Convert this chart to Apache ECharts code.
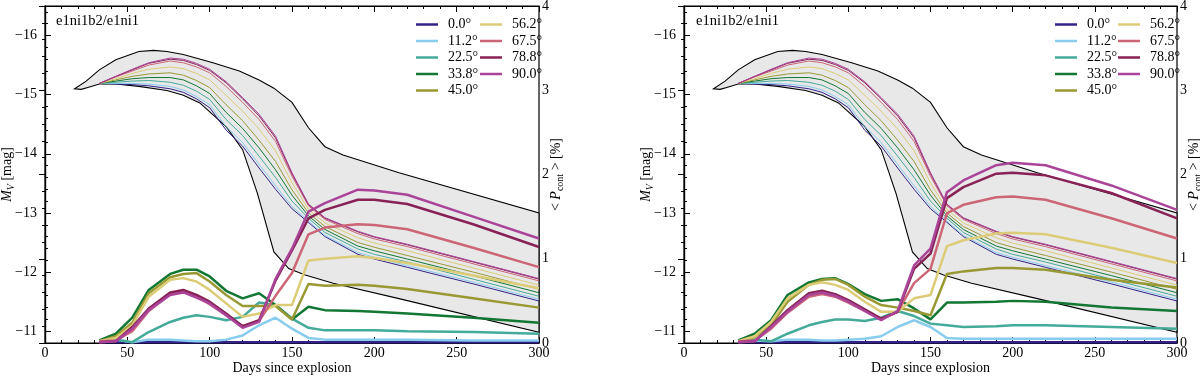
<!DOCTYPE html>
<html>
<head>
<meta charset="utf-8">
<script src="https://cdn.jsdelivr.net/npm/echarts@6/dist/echarts.min.js"></script>
<style>
  html, body { margin: 0; padding: 0; background: #fff; }
  #chart { width: 1200px; height: 376px; }
</style>
</head>
<body>
<div id="chart"></div>
<script>
var dom = document.getElementById("chart");
var myChart = echarts.init(dom, null, { renderer: 'canvas' });
var fontFam = 'Liberation Serif';

// angles and colours
var angles = ['0.0°', '11.2°', '22.5°', '33.8°', '45.0°', '56.2°', '67.5°', '78.8°', '90.0°'];
var colors = ['#332288', '#88CCEE', '#44AA99', '#117733', '#999933', '#DDCC77', '#CC6677', '#882255', '#AA4499'];
var panelTitles = ['e1ni1b2/e1ni1', 'e1ni1b2/e1ni1'];

// days since explosion (model epochs)
var days = [33, 43, 53, 63, 76, 84, 92, 100, 110, 120, 130, 140, 150, 160, 170, 190, 200, 220, 260, 300];

// light curves M_V, one per angle (same in both panels)
var lc00 = [-15.19, -15.18, -15.17, -15.15, -15.10, -15.04, -14.93, -14.78, -14.40, -14.13, -13.76, -13.40, -13.07, -12.84, -12.60, -12.30, -12.22, -12.08, -11.80, -11.51];
var lc11 = [-15.19, -15.19, -15.19, -15.18, -15.14, -15.08, -14.97, -14.83, -14.46, -14.19, -13.82, -13.46, -13.11, -12.86, -12.62, -12.33, -12.25, -12.11, -11.83, -11.54];
var lc22 = [-15.19, -15.21, -15.23, -15.24, -15.21, -15.16, -15.06, -14.92, -14.58, -14.31, -13.96, -13.60, -13.20, -12.91, -12.67, -12.39, -12.30, -12.17, -11.88, -11.59];
var lc33 = [-15.19, -15.23, -15.27, -15.29, -15.29, -15.25, -15.15, -15.02, -14.70, -14.43, -14.10, -13.73, -13.30, -12.95, -12.72, -12.44, -12.36, -12.22, -11.94, -11.65];
var lc45 = [-15.19, -15.25, -15.31, -15.35, -15.37, -15.33, -15.24, -15.12, -14.83, -14.56, -14.23, -13.87, -13.39, -13.00, -12.77, -12.50, -12.42, -12.28, -12.00, -11.71];
var lc56 = [-15.19, -15.27, -15.36, -15.43, -15.47, -15.44, -15.36, -15.25, -14.99, -14.72, -14.42, -14.05, -13.51, -13.06, -12.83, -12.58, -12.49, -12.36, -12.07, -11.78];
var lc67 = [-15.19, -15.30, -15.40, -15.50, -15.57, -15.54, -15.47, -15.37, -15.14, -14.87, -14.58, -14.21, -13.62, -13.12, -12.89, -12.65, -12.56, -12.43, -12.14, -11.85];
var lc78 = [-15.19, -15.31, -15.42, -15.53, -15.60, -15.58, -15.51, -15.41, -15.20, -14.93, -14.64, -14.27, -13.66, -13.14, -12.91, -12.68, -12.59, -12.46, -12.17, -11.88];
var lc90 = [-15.19, -15.31, -15.43, -15.54, -15.62, -15.60, -15.53, -15.43, -15.22, -14.95, -14.67, -14.30, -13.68, -13.15, -12.92, -12.69, -12.60, -12.47, -12.18, -11.89];

// grey reference band (upper and lower edges)
var envUpperX = [18, 25, 33, 43, 57, 66, 74, 84, 102, 118, 130, 139, 150, 160, 170, 181, 215, 300];
var envUpperY = [-15.10, -15.23, -15.42, -15.59, -15.73, -15.75, -15.73, -15.68, -15.54, -15.40, -15.25, -15.11, -14.87, -14.44, -14.12, -13.98, -13.68, -13.00];
var envLowerX = [18, 22, 27, 33, 43, 57, 74, 84, 94, 110, 120, 129, 139, 148, 158, 175, 215, 300];
var envLowerY = [-15.10, -15.09, -15.13, -15.18, -15.18, -15.14, -15.07, -14.99, -14.86, -14.46, -14.07, -13.33, -12.34, -12.06, -11.95, -11.81, -11.55, -10.98];

// continuum polarisation [%], left panel
var polL00 = [0.01, 0.01, 0.01, 0.01, 0.01, 0.01, 0.01, 0.01, 0.01, 0.01, 0.01, 0.01, 0.01, 0.01, 0.01, 0.01, 0.01, 0.01, 0.01, 0.01];
var polL11 = [0.02, 0.04, 0.01, 0.04, 0.04, 0.03, 0.02, 0.02, 0.04, 0.09, 0.21, 0.30, 0.17, 0.06, 0.04, 0.04, 0.04, 0.04, 0.03, 0.03];
var polL22 = [0.02, 0.04, 0.01, 0.13, 0.25, 0.30, 0.33, 0.31, 0.27, 0.31, 0.48, 0.45, 0.29, 0.18, 0.15, 0.15, 0.15, 0.14, 0.13, 0.11];
var polL33 = [0.03, 0.11, 0.30, 0.63, 0.82, 0.87, 0.87, 0.79, 0.62, 0.53, 0.59, 0.45, 0.28, 0.43, 0.39, 0.38, 0.37, 0.35, 0.30, 0.24];
var polL45 = [0.02, 0.08, 0.24, 0.59, 0.78, 0.82, 0.83, 0.73, 0.57, 0.44, 0.44, 0.44, 0.28, 0.70, 0.68, 0.69, 0.68, 0.64, 0.53, 0.42];
var polL56 = [0.02, 0.06, 0.21, 0.55, 0.75, 0.77, 0.73, 0.63, 0.47, 0.31, 0.35, 0.45, 0.45, 0.98, 1.00, 1.03, 1.01, 0.95, 0.80, 0.65];
var polL67 = [0.02, 0.03, 0.14, 0.38, 0.58, 0.61, 0.55, 0.46, 0.33, 0.20, 0.26, 0.56, 0.83, 1.29, 1.37, 1.41, 1.40, 1.35, 1.13, 0.90];
var polL78 = [0.01, 0.02, 0.19, 0.41, 0.60, 0.63, 0.57, 0.49, 0.35, 0.20, 0.27, 0.74, 1.10, 1.48, 1.58, 1.70, 1.70, 1.65, 1.41, 1.14];
var polL90 = [0.01, 0.02, 0.17, 0.39, 0.57, 0.60, 0.54, 0.47, 0.33, 0.18, 0.25, 0.76, 1.12, 1.56, 1.66, 1.82, 1.81, 1.76, 1.50, 1.24];

// continuum polarisation [%], right panel
var polR00 = [0.01, 0.01, 0.01, 0.01, 0.01, 0.01, 0.01, 0.01, 0.01, 0.01, 0.01, 0.01, 0.01, 0.01, 0.01, 0.01, 0.01, 0.01, 0.01, 0.01];
var polR11 = [0.02, 0.03, 0.02, 0.04, 0.04, 0.03, 0.03, 0.04, 0.05, 0.08, 0.19, 0.27, 0.19, 0.06, 0.05, 0.05, 0.05, 0.05, 0.05, 0.05];
var polR22 = [0.03, 0.04, 0.02, 0.11, 0.21, 0.25, 0.28, 0.28, 0.26, 0.30, 0.38, 0.32, 0.23, 0.21, 0.19, 0.20, 0.21, 0.21, 0.19, 0.17];
var polR33 = [0.03, 0.11, 0.27, 0.57, 0.72, 0.76, 0.77, 0.70, 0.58, 0.50, 0.52, 0.41, 0.28, 0.48, 0.48, 0.49, 0.50, 0.49, 0.42, 0.38];
var polR45 = [0.02, 0.07, 0.21, 0.49, 0.69, 0.75, 0.76, 0.69, 0.55, 0.45, 0.42, 0.38, 0.33, 0.82, 0.85, 0.89, 0.89, 0.87, 0.75, 0.66];
var polR56 = [0.02, 0.08, 0.25, 0.53, 0.69, 0.72, 0.69, 0.63, 0.49, 0.37, 0.37, 0.53, 0.57, 1.15, 1.22, 1.30, 1.31, 1.29, 1.13, 0.95];
var polR67 = [0.02, 0.03, 0.17, 0.36, 0.55, 0.58, 0.55, 0.48, 0.38, 0.28, 0.37, 0.71, 0.88, 1.54, 1.64, 1.73, 1.74, 1.70, 1.48, 1.24];
var polR78 = [0.01, 0.02, 0.20, 0.39, 0.59, 0.62, 0.58, 0.51, 0.40, 0.29, 0.37, 0.88, 1.06, 1.72, 1.85, 2.01, 2.02, 1.99, 1.78, 1.48];
var polR90 = [0.01, 0.02, 0.19, 0.37, 0.57, 0.60, 0.56, 0.49, 0.38, 0.27, 0.38, 0.92, 1.12, 1.79, 1.93, 2.11, 2.14, 2.11, 1.87, 1.58];

var lightCurves = [lc00, lc11, lc22, lc33, lc45, lc56, lc67, lc78, lc90];
var polPanels = [
    [polL00, polL11, polL22, polL33, polL45, polL56, polL67, polL78, polL90],
    [polR00, polR11, polR22, polR33, polR45, polR56, polR67, polR78, polR90]
];

function pairs(xs, ys) {
    return xs.map(function (x, i) { return [x, ys[i]]; });
}

var envPoints = pairs(envUpperX, envUpperY).concat(pairs(envLowerX, envLowerY).reverse());

var grids = [
    { left: 45, top: 6, width: 494, height: 337, show: true, borderColor: '#000', borderWidth: 1.2, outerBoundsMode: 'none', containLabel: false },
    { left: 684, top: 6, width: 493, height: 337, show: true, borderColor: '#000', borderWidth: 1.2, outerBoundsMode: 'none', containLabel: false }
];

var xAxes = [], yAxes = [], series = [], legends = [], titles = [];
var fs = 14;
var labelStyle = { color: '#000', fontFamily: fontFam, fontSize: fs };

for (var g = 0; g < 2; g++) {
    // bottom x axis
    xAxes.push({
        type: 'value', gridIndex: g, min: 0, max: 300, interval: 50, position: 'bottom',
        name: 'Days since explosion', nameLocation: 'middle', nameGap: 18, nameMoveOverlap: false,
        nameTextStyle: { color: '#000', fontFamily: fontFam, fontSize: fs },
        axisLine: { lineStyle: { color: '#000', width: 1.2 } },
        axisTick: { inside: true, length: 6, lineStyle: { color: '#000' } },
        minorTick: { show: true, splitNumber: 5, length: 3, lineStyle: { color: '#000' } },
        axisLabel: Object.assign({ margin: 3 }, labelStyle),
        splitLine: { show: false }
    });
    // top x axis (ticks only)
    xAxes.push({
        type: 'value', gridIndex: g, min: 0, max: 300, interval: 50, position: 'top',
        axisLine: { lineStyle: { color: '#000', width: 1.2 } },
        axisTick: { inside: true, length: 6, lineStyle: { color: '#000' } },
        minorTick: { show: true, splitNumber: 5, length: 3, lineStyle: { color: '#000' } },
        axisLabel: { show: false },
        splitLine: { show: false }
    });
    // magnitude axis (left, inverted)
    yAxes.push({
        type: 'value', gridIndex: g, min: -16.5, max: -10.8, inverse: true, position: 'left',
        name: '{it|M}{sub|V} [mag]', nameLocation: 'middle', nameGap: 29, nameRotate: 90, nameMoveOverlap: false,
        nameTextStyle: {
            color: '#000', fontFamily: fontFam, fontSize: fs,
            rich: {
                it: { fontFamily: fontFam, fontSize: fs, fontStyle: 'italic', color: '#000', lineHeight: 17 },
                sub: { fontFamily: fontFam, fontSize: 10, fontStyle: 'italic', color: '#000', verticalAlign: 'bottom', lineHeight: 17 }
            }
        },
        axisLine: { lineStyle: { color: '#000', width: 1.2 } },
        axisTick: { inside: true, length: 6, lineStyle: { color: '#000' } },
        minorTick: { show: true, splitNumber: 5, length: 3, lineStyle: { color: '#000' } },
        axisLabel: Object.assign({
            margin: 8, showMinLabel: false, showMaxLabel: false,
            formatter: function (v) { return v < 0 ? '\u2212' + Math.abs(v) : String(v); }
        }, labelStyle),
        splitLine: { show: false }
    });
    // polarisation axis (right)
    yAxes.push({
        type: 'value', gridIndex: g, min: 0, max: 4, interval: 1, position: 'right',
        name: '< {it|P}{sub|cont} > [%]', nameLocation: 'middle', nameGap: 9, nameRotate: 90, nameMoveOverlap: false,
        nameTextStyle: {
            color: '#000', fontFamily: fontFam, fontSize: fs,
            rich: {
                it: { fontFamily: fontFam, fontSize: fs, fontStyle: 'italic', color: '#000', lineHeight: 17 },
                sub: { fontFamily: fontFam, fontSize: 10, color: '#000', verticalAlign: 'bottom', lineHeight: 17 }
            }
        },
        axisLine: { lineStyle: { color: '#000', width: 1.2 } },
        axisTick: { inside: true, length: 6, lineStyle: { color: '#000' } },
        minorTick: { show: true, splitNumber: 5, length: 3, lineStyle: { color: '#000' } },
        axisLabel: Object.assign({ margin: 3 }, labelStyle),
        splitLine: { show: false }
    });

    // grey band
    series.push({
        type: 'custom', xAxisIndex: 2 * g, yAxisIndex: 2 * g, z: 1,
        data: envPoints,
        encode: { x: 0, y: 1 },
        silent: true,
        renderItem: function (params, api) {
            if (params.dataIndex !== 0) return;
            var pts = envPoints.map(function (p) { return api.coord(p); });
            return {
                type: 'polygon',
                shape: { points: pts },
                style: { fill: '#e8e8e8', stroke: '#000', lineWidth: 1.1 }
            };
        }
    });

    // light curves (thin)
    for (var a = 0; a < angles.length; a++) {
        series.push({
            type: 'line', name: angles[a], xAxisIndex: 2 * g, yAxisIndex: 2 * g,
            data: pairs(days, lightCurves[a]), showSymbol: false, symbol: 'none', z: 3,
            color: colors[a],
            lineStyle: { color: colors[a], width: 1 }
        });
    }
    // polarisation (thick)
    for (var b = 0; b < angles.length; b++) {
        series.push({
            type: 'line', name: angles[b], xAxisIndex: 2 * g, yAxisIndex: 2 * g + 1,
            data: pairs(days, polPanels[g][b]), showSymbol: false, symbol: 'none', z: 4,
            color: colors[b],
            lineStyle: { color: colors[b], width: 2.5 }
        });
    }

    var lx = g === 0 ? [411, 475] : [1050, 1113];
    legends.push({
        orient: 'vertical', left: lx[0], top: 12, data: angles.slice(0, 5),
        icon: 'rect', itemWidth: 22, itemHeight: 2.5, itemGap: 1.5, selectedMode: false,
        textStyle: { color: '#000', fontFamily: fontFam, fontSize: fs, lineHeight: 15, padding: [0, 0, 0, 5] }
    });
    legends.push({
        orient: 'vertical', left: lx[1], top: 12, data: angles.slice(5),
        icon: 'rect', itemWidth: 22, itemHeight: 2.5, itemGap: 1.5, selectedMode: false,
        textStyle: { color: '#000', fontFamily: fontFam, fontSize: fs, lineHeight: 15, padding: [0, 0, 0, 5] }
    });

    titles.push({
        text: panelTitles[g], left: g === 0 ? 56 : 696, top: 14, padding: 0,
        textStyle: { color: '#000', fontFamily: fontFam, fontSize: 14.5, fontWeight: 'normal' }
    });
}

var option = {
    backgroundColor: '#fff',
    animation: false,
    title: titles,
    legend: legends,
    grid: grids,
    xAxis: xAxes,
    yAxis: yAxes,
    series: series
};
myChart.setOption(option);
</script>
</body>
</html>
